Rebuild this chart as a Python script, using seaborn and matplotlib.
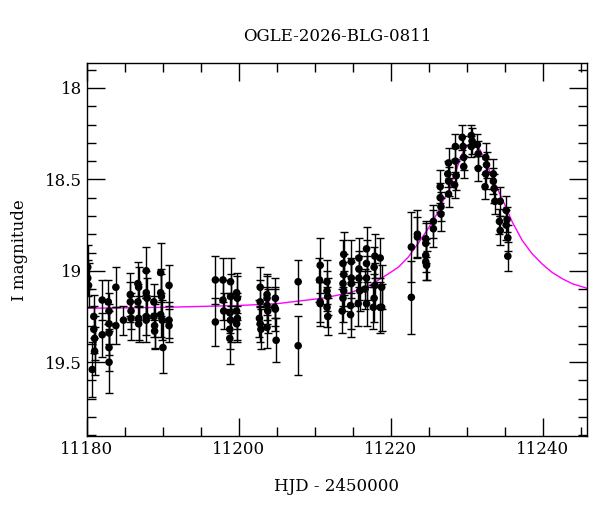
import numpy as np
import pandas as pd
import matplotlib
matplotlib.use("Agg")
import matplotlib.pyplot as plt
import seaborn as sns
from matplotlib.ticker import MultipleLocator

# observations: HJD-2450000, I mag, error
hjd = [
    11180.1, 11180.1, 11180.2, 11180.9, 11180.9, 11181.0, 11180.7, 11181.0, 11182.0, 11182.0,
    11182.8, 11182.9, 11182.9, 11182.9, 11182.9, 11182.9, 11183.8, 11183.8, 11184.8, 11185.7,
    11185.8, 11185.8, 11185.7, 11186.7, 11186.8, 11186.7, 11186.8, 11186.8, 11187.8, 11187.8,
    11187.9, 11187.8, 11187.8, 11188.8, 11188.8, 11188.9, 11188.9, 11189.7, 11189.7, 11189.8,
    11189.7, 11189.9, 11190.0, 11190.8, 11190.8, 11190.8,
    11196.9, 11196.9, 11197.9, 11197.9, 11198.0, 11198.9, 11198.9, 11198.8, 11198.9, 11198.8,
    11198.8, 11199.7, 11199.8, 11199.7, 11199.8, 11199.7, 11202.8, 11202.8, 11202.7, 11202.8,
    11202.9, 11203.7, 11203.7, 11203.7, 11203.8, 11203.7, 11204.8, 11204.7, 11204.8, 11204.9,
    11207.8, 11207.8,
    11210.7, 11210.6, 11210.7, 11210.7, 11211.6, 11211.6, 11211.7, 11211.6, 11211.7, 11213.8,
    11213.7, 11213.8, 11213.7, 11213.8, 11213.7, 11213.6, 11214.8, 11214.8, 11214.8, 11214.7,
    11214.7, 11215.8, 11215.8, 11215.8, 11215.9, 11215.7, 11216.8, 11216.8, 11216.8, 11216.6,
    11216.8, 11217.9, 11217.8, 11217.9, 11217.8, 11217.7, 11218.6, 11218.8, 11218.6, 11218.8,
    11222.7, 11222.7, 11223.5, 11223.5, 11224.6, 11224.6, 11224.6, 11224.6, 11224.7, 11225.6,
    11225.6, 11226.5, 11226.5, 11226.6, 11226.6, 11227.6, 11227.5, 11227.6, 11227.6, 11228.5,
    11228.5, 11228.6, 11228.4, 11229.4, 11229.5, 11229.6, 11229.6, 11230.6, 11230.7, 11230.6,
    11231.4, 11231.5, 11231.5, 11232.5, 11232.6, 11232.5, 11232.4, 11233.5, 11233.5, 11233.6,
    11233.7, 11234.4, 11234.3, 11234.4, 11235.2, 11235.3, 11235.2, 11235.4, 11235.4,
]
imag = [
    18.98, 19.04, 19.08, 19.25, 19.32, 19.37, 19.54, 19.44, 19.16, 19.35,
    19.17, 19.22, 19.29, 19.34, 19.42, 19.50, 19.09, 19.30, 19.27, 19.13,
    19.22, 19.26, 19.17, 19.07, 19.09, 19.17, 19.26, 19.29, 19.00, 19.12,
    19.15, 19.25, 19.27, 19.17, 19.25, 19.30, 19.33, 19.01, 19.12, 19.14,
    19.24, 19.27, 19.42, 19.08, 19.27, 19.30,
    19.05, 19.28, 19.05, 19.16, 19.22, 19.06, 19.14, 19.23, 19.27, 19.32,
    19.37, 19.12, 19.15, 19.22, 19.26, 19.29, 19.09, 19.17, 19.26, 19.29,
    19.32, 19.13, 19.15, 19.19, 19.22, 19.31, 19.15, 19.20, 19.21, 19.38,
    19.06, 19.41,
    18.97, 19.05, 19.17, 19.18, 19.06, 19.11, 19.14, 19.20, 19.25, 18.91,
    18.96, 19.02, 19.07, 19.11, 19.15, 19.22, 18.95, 19.04, 19.07, 19.19,
    19.24, 18.93, 18.99, 19.04, 19.11, 19.18, 18.88, 18.96, 19.04, 19.10,
    19.18, 18.92, 18.98, 19.08, 19.15, 19.20, 18.93, 19.09, 19.20, 19.20,
    18.87, 19.145, 18.80, 18.815, 18.825, 18.85, 18.915, 18.95, 18.97, 18.73,
    18.77, 18.54, 18.60, 18.65, 18.69, 18.41, 18.47, 18.51, 18.58, 18.32,
    18.40, 18.48, 18.53, 18.27, 18.32, 18.38, 18.43, 18.26, 18.29, 18.32,
    18.31, 18.36, 18.44, 18.38, 18.42, 18.47, 18.54, 18.47, 18.51, 18.55,
    18.62, 18.62, 18.73, 18.78, 18.67, 18.72, 18.75, 18.82, 18.92,
]
ierr = [
    0.12, 0.10, 0.12, 0.12, 0.13, 0.12, 0.15, 0.13, 0.11, 0.12,
    0.12, 0.10, 0.11, 0.12, 0.13, 0.17, 0.11, 0.10, 0.08, 0.12,
    0.10, 0.12, 0.11, 0.12, 0.11, 0.10, 0.12, 0.10, 0.13, 0.12,
    0.11, 0.10, 0.12, 0.10, 0.11, 0.12, 0.10, 0.16, 0.13, 0.12,
    0.12, 0.11, 0.14, 0.11, 0.10, 0.09,
    0.13, 0.13, 0.12, 0.11, 0.10, 0.13, 0.12, 0.11, 0.12, 0.11,
    0.14, 0.11, 0.12, 0.10, 0.12, 0.10, 0.11, 0.12, 0.10, 0.10,
    0.11, 0.11, 0.12, 0.10, 0.12, 0.11, 0.11, 0.10, 0.12, 0.12,
    0.12, 0.16,
    0.15, 0.12, 0.11, 0.12, 0.12, 0.11, 0.10, 0.11, 0.10, 0.12,
    0.13, 0.11, 0.12, 0.11, 0.13, 0.12, 0.12, 0.11, 0.12, 0.13,
    0.12, 0.11, 0.10, 0.12, 0.11, 0.12, 0.12, 0.13, 0.12, 0.11,
    0.12, 0.12, 0.11, 0.12, 0.13, 0.12, 0.11, 0.12, 0.14, 0.13,
    0.19, 0.20, 0.13, 0.11, 0.10, 0.11, 0.09, 0.10, 0.08, 0.09,
    0.10, 0.09, 0.08, 0.08, 0.09, 0.08, 0.07, 0.08, 0.07, 0.07,
    0.07, 0.08, 0.07, 0.07, 0.06, 0.07, 0.06, 0.06, 0.07, 0.06,
    0.06, 0.07, 0.07, 0.08, 0.07, 0.08, 0.07, 0.08, 0.07, 0.08,
    0.07, 0.08, 0.07, 0.08, 0.08, 0.07, 0.08, 0.07, 0.08,
]

# model curve
model_hjd = [
    11180.0, 11190.0, 11200.0, 11205.0, 11208.0, 11211.0, 11214.6, 11217.0, 11218.4, 11219.7,
    11221.0, 11222.3, 11223.6, 11224.9, 11226.2, 11226.9, 11227.6, 11228.5, 11229.4, 11230.0,
    11230.7, 11231.5, 11232.5, 11233.3, 11234.7, 11236.0, 11237.3, 11238.6, 11239.9, 11241.2,
    11242.6, 11243.9, 11246.1,
]
model_mag = [
    19.205, 19.200, 19.190, 19.180, 19.165, 19.150, 19.120, 19.085, 19.050, 19.016,
    18.980, 18.925, 18.850, 18.770, 18.680, 18.615, 18.560, 18.460, 18.360, 18.315,
    18.300, 18.320, 18.400, 18.487, 18.610, 18.734, 18.834, 18.907, 18.962, 19.008,
    19.044, 19.071, 19.099,
]

obs = pd.DataFrame({"hjd": hjd, "mag": imag, "err": ierr})
model = pd.DataFrame({"hjd": model_hjd, "mag": model_mag})

sns.set_style("ticks")
plt.rcParams["font.family"] = ["DejaVu Serif"]
plt.rcParams.update({
    "text.color": "black", "axes.labelcolor": "black",
    "xtick.color": "black", "ytick.color": "black", "axes.edgecolor": "black",
})

fig = plt.figure(figsize=(6, 5.12), dpi=100)
ax = fig.add_axes([0.145, 0.148, 0.833, 0.728])

sns.lineplot(data=model, x="hjd", y="mag", color="#ff00ff", lw=1, ax=ax, sort=False)
ax.errorbar(obs["hjd"], obs["mag"], yerr=obs["err"], fmt="none", ecolor="black",
            elinewidth=1, capsize=3, capthick=1, zorder=3)
sns.scatterplot(data=obs, x="hjd", y="mag", color="black", s=30, edgecolor="none",
                ax=ax, zorder=4)

ax.set_xlim(11180, 11245.8)
ax.set_ylim(19.905, 17.866)
ax.xaxis.set_major_locator(MultipleLocator(20))
ax.xaxis.set_minor_locator(MultipleLocator(5))
ax.yaxis.set_major_locator(MultipleLocator(0.5))
ax.yaxis.set_minor_locator(MultipleLocator(0.1))
ax.yaxis.set_major_formatter(plt.FuncFormatter(lambda v, p: f"{v:g}"))
ax.tick_params(which="both", direction="in", top=True, right=True, labelsize=12, width=1)
ax.tick_params(which="major", length=13)
ax.tick_params(which="minor", length=6.5)
for s in ax.spines.values():
    s.set_linewidth(1)

ax.set_title("OGLE-2026-BLG-0811", fontsize=12, pad=16)
ax.set_xlabel("HJD - 2450000", fontsize=12, labelpad=14)
ax.set_ylabel("I magnitude", fontsize=12, labelpad=12)

fig.savefig("out.png", dpi=100)
